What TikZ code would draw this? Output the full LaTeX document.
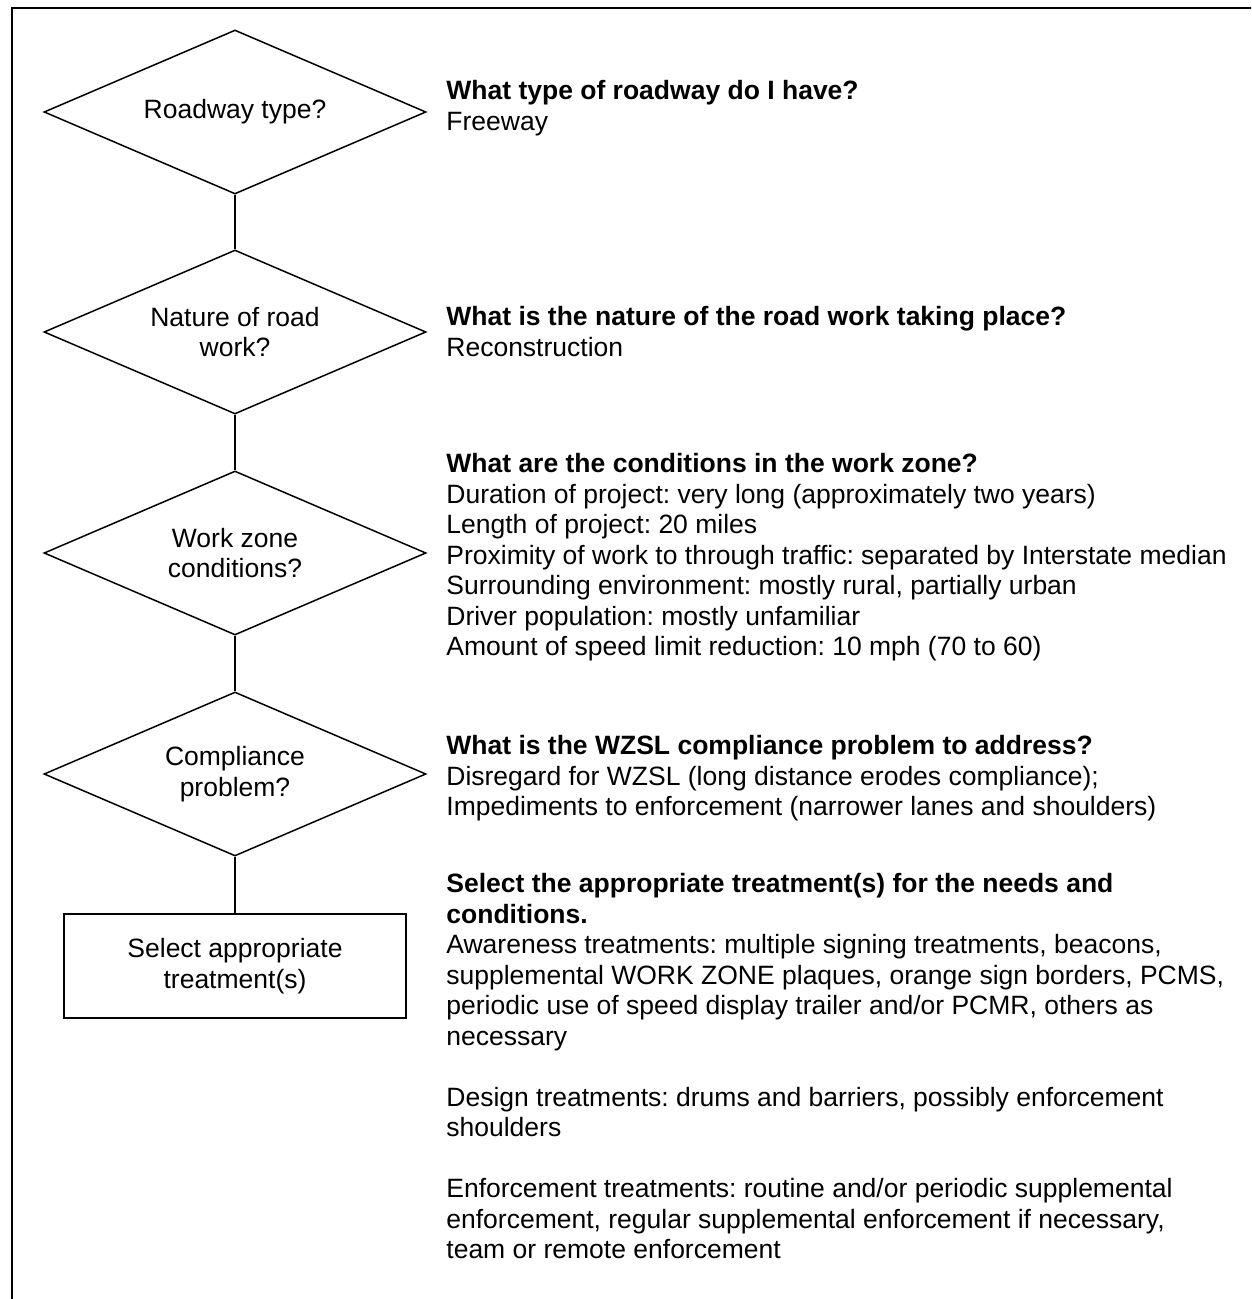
\documentclass[tikz,border=0pt]{standalone}
\usepackage{fontspec}
\setmainfont{Liberation Sans}
\usetikzlibrary{shapes.geometric}
\frenchspacing

\begin{document}
\begin{tikzpicture}[x=0.5pt, y=-0.5pt,
        every node/.style={font=\fontsize{13.25}{15.25}\selectfont, inner sep=0pt},
        decision/.style={draw, line width=0.75pt, shape=diamond, aspect=2.33,
            minimum width=191pt, minimum height=82pt, align=center},
        choice/.style={draw, line width=0.75pt, minimum width=171pt,
            minimum height=52pt, align=center},
        question/.style={anchor=base west, align=left}]
                \useasboundingbox (0,0) rectangle (1251,1299);
                \draw[line width=1pt] (12,1299) -- (12,8) -- (1251,8);

                \node[decision] (road) at (235,112) {Roadway type?};
                \node[decision] (nature) at (235,332) {Nature of road\\work?};
                \node[decision] (cond) at (235,553) {Work zone\\conditions?};
                \node[decision] (comp) at (235,774) {Compliance\\problem?};
                \node[choice] (select) at (235,966) {Select appropriate\\treatment(s)};

                \draw[line width=0.75pt] (road) -- (nature);
                \draw[line width=0.75pt] (nature) -- (cond);
                \draw[line width=0.75pt] (cond) -- (comp);
                \draw[line width=0.75pt] (comp) -- (select);

                % base west sits on the last line of each block
                \node[question] (qroad) at (446,130.5)
                    {\textbf{What type of roadway do I have?}\\Freeway};
                \node[question] (qnature) at (446,356.5)
                    {\textbf{What is the nature of the road work taking place?}\\Reconstruction};
                \node[question] (qcond) at (446,655.5)
                    {\textbf{What are the conditions in the work zone?}\\
                     Duration of project: very long (approximately two years)\\
                     Length of project: 20 miles\\
                     Proximity of work to through traffic: separated by Interstate median\\
                     Surrounding environment: mostly rural, partially urban\\
                     Driver population: mostly unfamiliar\\
                     Amount of speed limit reduction: 10 mph (70 to 60)};
                \node[question] (qcomp) at (446,815.5)
                    {\textbf{What is the WZSL compliance problem to address?}\\
                     Disregard for WZSL (long distance erodes compliance);\\
                     Impediments to enforcement (narrower lanes and shoulders)};
                \node[question] (qselect) at (446,1258.5)
                    {\textbf{Select the appropriate treatment(s) for the needs and}\\
                     \textbf{conditions.}\\
                     Awareness treatments: multiple signing treatments, beacons,\\
                     supplemental WORK ZONE plaques, orange sign borders, PCMS,\\
                     periodic use of speed display trailer and/or PCMR, others as\\
                     necessary\\[15.25pt]
                     Design treatments: drums and barriers, possibly enforcement\\
                     shoulders\\[15.25pt]
                     Enforcement treatments: routine and/or periodic supplemental\\
                     enforcement, regular supplemental enforcement if necessary,\\
                     team or remote enforcement};
            \end{tikzpicture}
\end{document}
